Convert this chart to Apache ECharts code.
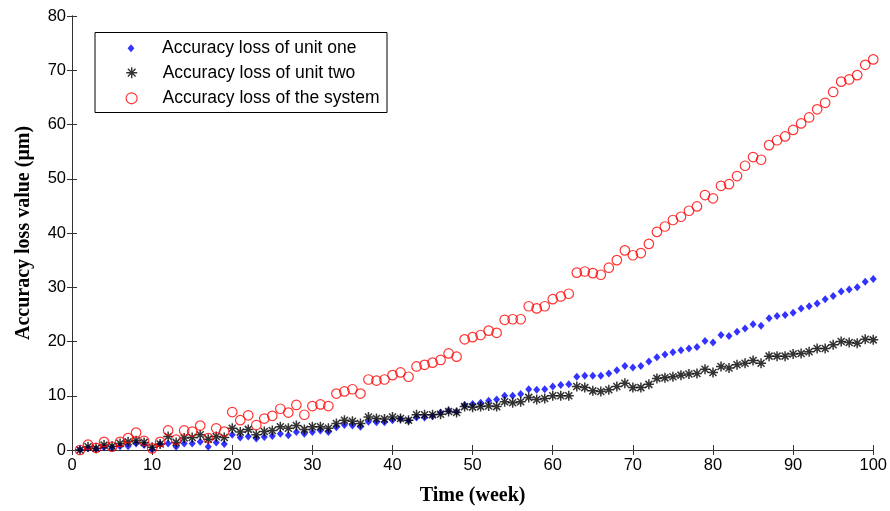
<!DOCTYPE html>
<html>
<head>
<meta charset="utf-8">
<script src="https://cdn.jsdelivr.net/npm/echarts@6/dist/echarts.min.js"></script>
<style>
html,body{margin:0;padding:0;background:#fff;}
#chart{width:890px;height:511px;}
</style>
</head>
<body>
<div id="chart"></div>
<script>
const weeks = [1,2,3,4,5,6,7,8,9,10,11,12,13,14,15,16,17,18,19,20,21,22,23,24,25,26,27,28,29,30,31,32,33,34,35,36,37,38,39,40,41,42,43,44,45,46,47,48,49,50,51,52,53,54,55,56,57,58,59,60,61,62,63,64,65,66,67,68,69,70,71,72,73,74,75,76,77,78,79,80,81,82,83,84,85,86,87,88,89,90,91,92,93,94,95,96,97,98,99,100];

const unitOne = [0.1,0.3,0.2,0.5,0.4,0.7,0.7,1.2,0.9,0.1,1.1,1.2,0.6,1.2,1.2,1.5,0.6,1.4,1.1,2.8,2.3,2.5,2.1,2.4,2.6,3.0,2.7,3.3,3.0,3.3,3.6,3.3,4.2,4.6,4.5,4.3,5.2,5.1,5.1,5.5,5.7,5.4,6.0,6.0,6.2,6.9,7.3,7.1,8.3,8.5,8.7,9.1,9.3,10.0,10.0,10.3,11.2,11.1,11.2,11.7,12.0,12.1,13.5,13.7,13.7,13.7,14.1,14.7,15.5,15.2,15.5,16.3,17.1,17.6,18.0,18.4,18.7,19.0,20.1,19.8,21.2,21.0,21.8,22.4,23.2,22.9,24.3,24.7,24.9,25.3,26.1,26.5,27.0,27.8,28.4,29.2,29.6,30.0,31.0,31.5];

const unitTwo = [0.0,0.6,0.3,0.9,0.7,1.2,1.5,1.7,1.4,0.5,1.1,2.5,1.4,2.2,2.3,2.8,2.0,2.5,2.3,4.0,3.3,3.8,2.8,3.4,3.6,4.3,4.0,4.5,3.8,4.3,4.3,4.0,4.9,5.5,5.3,4.9,6.1,5.8,5.7,6.1,5.8,5.5,6.5,6.5,6.5,6.6,7.1,6.9,8.0,7.9,8.0,8.1,8.0,8.9,8.7,8.9,9.7,9.3,9.5,10.0,10.0,10.0,11.7,11.5,10.9,10.8,11.1,11.7,12.3,11.5,11.5,12.1,13.2,13.3,13.5,13.8,14.0,14.1,14.9,14.3,15.4,15.1,15.7,16.0,16.5,16.0,17.3,17.3,17.3,17.7,17.8,18.1,18.7,18.7,19.4,20.0,19.8,19.7,20.4,20.3];

const systemLoss = [0.0,1.0,0.4,1.5,0.6,1.5,2.2,3.2,1.7,0.3,1.5,3.6,1.9,3.6,3.4,4.5,2.2,4.0,3.4,7.0,5.5,6.4,4.6,5.8,6.3,7.6,6.9,8.3,6.5,8.1,8.4,8.1,10.4,10.8,11.2,10.4,13.0,12.8,13.0,13.8,14.3,13.5,15.4,15.7,16.1,16.6,17.8,17.2,20.4,20.8,21.2,22.0,21.6,24.0,24.1,24.1,26.5,26.1,26.5,27.8,28.3,28.8,32.7,32.9,32.6,32.3,33.6,35.0,36.8,35.9,36.3,38.0,40.2,41.2,42.4,43.0,44.1,44.9,47.0,46.4,48.7,49.0,50.5,52.4,54.0,53.5,56.2,57.1,57.8,59.0,60.2,61.3,62.8,64.0,66.0,67.9,68.3,69.1,71.0,72.0];

const seriesNames = ['Accuracy loss of unit one', 'Accuracy loss of unit two', 'Accuracy loss of the system'];
const xTicks = [0,10,20,30,40,50,60,70,80,90,100];
const yTicks = [0,10,20,30,40,50,60,70,80];

function pairs(ys){ return weeks.map((w,i)=>[w, ys[i]]); }

const axisColor = '#333';
const tickFont = {fontFamily:'Liberation Sans, Arial, sans-serif', fontSize:16.5, color:'#000'};
const titleFont = {fontFamily:'Liberation Serif, Times New Roman, serif', fontSize:20, fontWeight:'bold', color:'#000'};
const asterisk = 'path://M0,-10L0,10M-10,0L10,0M-7,-7L7,7M-7,7L7,-7';
const diamondPath = 'path://M0,-7L6,0L0,7L-6,0Z';

const chart = echarts.init(document.getElementById('chart'), null, {renderer:'canvas'});
const baseX = {type:'value', min:xTicks[0], max:xTicks[xTicks.length-1], interval:10, splitLine:{show:false},
  axisLine:{show:true, lineStyle:{color:axisColor, width:1}},
  axisTick:{show:true, inside:true, length:5, lineStyle:{color:axisColor}}};
const baseY = {type:'value', min:yTicks[0], max:yTicks[yTicks.length-1], interval:10, splitLine:{show:false},
  axisLine:{show:true, lineStyle:{color:axisColor, width:1}},
  axisTick:{show:true, inside:true, length:5, lineStyle:{color:axisColor}}};

function legendFor(item, top, h, w){
  return {data:[item], left:131 - w/2, top:top, padding:0, itemWidth:52, itemHeight:h, selectedMode:false,
    symbolKeepAspect:true,
    textStyle:{fontFamily:'Liberation Sans, Arial, sans-serif', fontSize:17.5, color:'#000', lineHeight:20}, z:6};
}

chart.setOption({
  animation:false,
  backgroundColor:'#fff',
  grid:{left:72, right:14, top:16, bottom:61, containLabel:false},
  xAxis:[
    Object.assign({}, baseX, {position:'bottom', axisLabel:Object.assign({margin:7}, tickFont),
      name:'Time (week)', nameLocation:'middle', nameGap:36, nameTextStyle:titleFont}),
    Object.assign({}, baseX, {position:'top', axisLabel:{show:false}})
  ],
  yAxis:[
    Object.assign({}, baseY, {position:'left', axisLabel:Object.assign({margin:6}, tickFont),
      name:'Accuracy loss value (\u03bcm)', nameLocation:'middle', nameGap:38, nameRotate:90, nameTextStyle:titleFont}),
    Object.assign({}, baseY, {position:'right', axisLabel:{show:false}})
  ],
  legend:[
    legendFor({name:seriesNames[0], icon:diamondPath, itemStyle:{color:'#0000ff', borderWidth:0}}, 38.3, 8, 6.86),
    legendFor({name:seriesNames[1], icon:asterisk, itemStyle:{color:'rgba(0,0,0,0)', borderColor:'#000', borderWidth:1.4}}, 62.7, 11, 11),
    legendFor({name:seriesNames[2], icon:'circle', itemStyle:{color:'rgba(0,0,0,0)', borderColor:'#ff0000', borderWidth:1.2}}, 88.3, 11, 11)
  ],
  graphic:[{type:'rect', z:5, shape:{x:95, y:32.5, width:292, height:80}, style:{fill:'#fff', stroke:'#000', lineWidth:1}}],
  series:[
    {name:seriesNames[0], type:'scatter', data:pairs(unitOne), symbol:'diamond', symbolSize:[7,8],
      itemStyle:{color:'#0000ff'}},
    {name:seriesNames[1], type:'scatter', data:pairs(unitTwo), symbol:asterisk, symbolSize:10,
      itemStyle:{color:'rgba(0,0,0,0)', borderColor:'#000', borderWidth:1.5}},
    {name:seriesNames[2], type:'scatter', data:pairs(systemLoss), symbol:'circle', symbolSize:9.5,
      itemStyle:{color:'rgba(0,0,0,0)', borderColor:'#ff0000', borderWidth:1.2}}
  ]
});
</script>
</body>
</html>
